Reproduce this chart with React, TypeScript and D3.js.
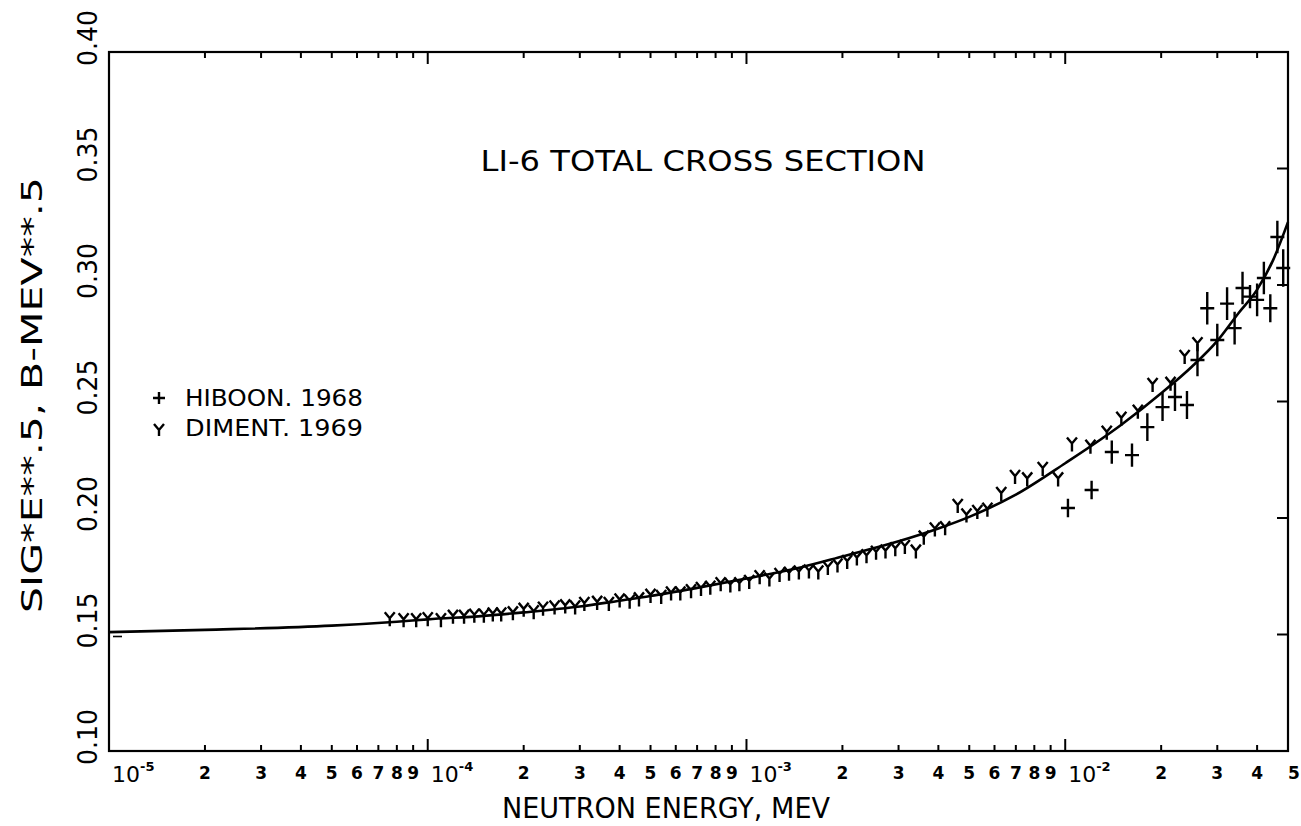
import React from 'react';
import * as d3 from 'd3';

// evaluated curve, sigma*sqrt(E) vs E (MeV)
const curveE = [1e-5, 2e-5, 5e-5, 8e-5, 1e-4, 1.5e-4, 2e-4, 3e-4, 4e-4, 5e-4, 7e-4, 1e-3, 1.5e-3, 2e-3, 3e-3, 4e-3, 5e-3, 7e-3, 1e-2, 1.5e-2, 2e-2, 2.5e-2, 3e-2, 3.5e-2, 4e-2, 4.5e-2, 5e-2];
const curveSig = [0.151, 0.152, 0.1538, 0.1555, 0.1565, 0.158, 0.1595, 0.162, 0.1645, 0.1665, 0.170, 0.174, 0.179, 0.1835, 0.190, 0.1955, 0.2005, 0.210, 0.2235, 0.240, 0.2535, 0.265, 0.276, 0.288, 0.298, 0.311, 0.327];

// DIMENT 1969
const dimentE = [7.6e-5, 8.4e-5, 9.2e-5, 1.0e-4, 1.1e-4, 1.2e-4, 1.3e-4, 1.4e-4, 1.5e-4, 1.6e-4, 1.7e-4, 1.85e-4, 2.0e-4, 2.15e-4, 2.3e-4, 2.5e-4, 2.7e-4, 2.9e-4, 3.1e-4, 3.4e-4, 3.7e-4, 4.0e-4, 4.3e-4, 4.6e-4, 5.0e-4, 5.4e-4, 5.8e-4, 6.2e-4, 6.7e-4, 7.2e-4, 7.7e-4, 8.3e-4, 8.9e-4, 9.5e-4, 1.02e-3, 1.1e-3, 1.18e-3, 1.27e-3, 1.36e-3, 1.46e-3, 1.57e-3, 1.68e-3, 1.8e-3, 1.93e-3, 2.07e-3, 2.22e-3, 2.38e-3, 2.55e-3, 2.73e-3, 2.93e-3, 3.14e-3, 3.4e-3, 3.6e-3, 3.9e-3, 4.2e-3, 4.6e-3, 4.9e-3, 5.3e-3, 5.7e-3, 6.3e-3, 6.96e-3, 7.6e-3, 8.5e-3, 9.5e-3, 1.05e-2, 1.2e-2, 1.35e-2, 1.5e-2, 1.69e-2, 1.88e-2, 2.14e-2, 2.37e-2, 2.6e-2];
const dimentSig = [0.157, 0.1565, 0.1565, 0.157, 0.1565, 0.158, 0.158, 0.1585, 0.1585, 0.159, 0.159, 0.1595, 0.161, 0.160, 0.1615, 0.162, 0.1625, 0.162, 0.1635, 0.164, 0.1635, 0.165, 0.1645, 0.1655, 0.167, 0.1665, 0.168, 0.168, 0.169, 0.170, 0.1705, 0.172, 0.1715, 0.172, 0.173, 0.175, 0.174, 0.176, 0.1765, 0.177, 0.1775, 0.177, 0.179, 0.180, 0.1815, 0.183, 0.184, 0.1855, 0.186, 0.187, 0.188, 0.186, 0.192, 0.1955, 0.196, 0.2056, 0.2015, 0.203, 0.204, 0.2107, 0.218, 0.217, 0.2215, 0.217, 0.232, 0.231, 0.237, 0.243, 0.246, 0.2575, 0.258, 0.2695, 0.275];

// HIBOON 1968
const hiboonE = [1.02e-2, 1.21e-2, 1.4e-2, 1.62e-2, 1.81e-2, 2.02e-2, 2.21e-2, 2.41e-2, 2.6e-2, 2.79e-2, 3.0e-2, 3.22e-2, 3.4e-2, 3.6e-2, 3.8e-2, 4.0e-2, 4.2e-2, 4.4e-2, 4.63e-2, 4.83e-2];
const hiboonSig = [0.2043, 0.212, 0.2283, 0.227, 0.239, 0.2476, 0.2519, 0.2485, 0.2678, 0.290, 0.2764, 0.292, 0.2815, 0.2987, 0.295, 0.2936, 0.303, 0.290, 0.3206, 0.3073];
const hiboonErr = [0.004, 0.004, 0.005, 0.005, 0.006, 0.006, 0.006, 0.006, 0.007, 0.007, 0.007, 0.007, 0.007, 0.007, 0.005, 0.007, 0.007, 0.006, 0.007, 0.008];

const yTicks = [0.10, 0.15, 0.20, 0.25, 0.30, 0.35, 0.40];
const yTickLabels = ['0.10', '0.15', '0.20', '0.25', '0.30', '0.35', '0.40'];
const legendLabels = ['HIBOON. 1968', 'DIMENT. 1969'];

const W = 1301;
const H = 826;
const left = 109, right = 1288, top = 52, bottom = 751;
const font = '"DejaVu Sans", sans-serif';

const App: React.FC = () => {
  const x = d3.scaleLog().domain([1e-5, 5e-2]).range([left, right]);
  const y = d3.scaleLinear().domain([0.10, 0.40]).range([bottom, top]);

  const line = d3.line<number>()
    .x((_, i) => x(curveE[i]))
    .y(d => y(d))
    .curve(d3.curveMonotoneX);

  const xTicks = x.ticks();

  const yMarker = 'M -5 -6 L 0 0 L 5 -6 M 0 0 L 0 8';
  const plusMarker = (px: number, py: number, e: number) => {
    const up = y(e) - y(0);
    return `M ${px - 7} ${py} L ${px + 7} ${py} M ${px} ${py + up} L ${px} ${py - up}`;
  };

  return (
    <svg width={W} height={H} style={{ position: 'absolute', left: 0, top: 0, background: '#fff' }}>
      {/* frame */}
      <rect x={left} y={top} width={right - left} height={bottom - top} fill="none" stroke="#000" strokeWidth={2.2} />

      {/* x ticks bottom and top */}
      {xTicks.map((t, i) => {
        const m = Math.round(t / Math.pow(10, Math.floor(Math.log10(t) + 1e-9)));
        const len = m === 1 ? 12 : 6;
        const px = x(t);
        return (
          <g key={'xt' + i}>
            <line x1={px} x2={px} y1={bottom} y2={bottom - len} stroke="#000" strokeWidth={2} />
            <line x1={px} x2={px} y1={top} y2={top + len} stroke="#000" strokeWidth={2} />
          </g>
        );
      })}

      {/* x tick labels */}
      {xTicks.map((t, i) => {
        const exp = Math.floor(Math.log10(t) + 1e-9);
        const m = Math.round(t / Math.pow(10, exp));
        const px = x(t);
        if (m === 1) {
          return (
            <text key={'xl' + i} x={px + 3} y={782} fontFamily={font} fontSize={22} fill="#000">
              10<tspan fontSize={13} fontWeight="bold" dy={-11}>{`-${-exp}`}</tspan>
            </text>
          );
        }
        const last = i === xTicks.length - 1;
        return (
          <text key={'xl' + i} x={last ? px + 6 : px} y={779} textAnchor="middle" fontFamily={font}
            fontSize={17} fontWeight="bold" fill="#000">{m}</text>
        );
      })}

      {/* y ticks (right side, pointing in) */}
      {yTicks.map((t, i) => (
        <g key={'yt' + i}>
          <line x1={right} x2={right - 11} y1={y(t)} y2={y(t)} stroke="#000" strokeWidth={2} />
          <text transform={`translate(97, ${y(t) - 14}) rotate(-90)`} textAnchor="middle" fontFamily={font}
            fontSize={26} textLength={56} lengthAdjust="spacingAndGlyphs" fill="#000">{yTickLabels[i]}</text>
        </g>
      ))}
      <line x1={113} x2={122} y1={y(0.15) + 2} y2={y(0.15) + 2} stroke="#000" strokeWidth={1.6} />

      {/* axis titles */}
      <text x={502} y={818} fontFamily={font} fontSize={29} textLength={328} lengthAdjust="spacingAndGlyphs" fill="#000">
        NEUTRON ENERGY, MEV
      </text>
      <text transform="translate(42, 395) rotate(-90)" textAnchor="middle" fontFamily={font} fontSize={28}
        textLength={436} lengthAdjust="spacingAndGlyphs" fill="#000">SIG*E**.5, B-MEV**.5</text>

      {/* chart title */}
      <text x={703} y={171} textAnchor="middle" fontFamily={font} fontSize={29} textLength={445}
        lengthAdjust="spacingAndGlyphs" fill="#000">LI-6 TOTAL CROSS SECTION</text>

      {/* legend */}
      <path d="M 153 398 L 165 398 M 159 392 L 159 404" stroke="#000" strokeWidth={2.4} fill="none" />
      <path d="M 154 424 L 159 430 L 164 424 M 159 430 L 159 436" stroke="#000" strokeWidth={2.4} fill="none" />
      {legendLabels.map((l, i) => (
        <text key={'lg' + i} x={185} y={406 + i * 30} fontFamily={font} fontSize={23} textLength={178}
          lengthAdjust="spacingAndGlyphs" fill="#000">{l}</text>
      ))}

      {/* curve */}
      <path d={line(curveSig) || ''} fill="none" stroke="#000" strokeWidth={2.6} />

      {/* Diment markers */}
      {dimentE.map((e, i) => (
        <path key={'dm' + i} transform={`translate(${x(e)}, ${y(dimentSig[i])})`} d={yMarker}
          stroke="#000" strokeWidth={2.4} fill="none" />
      ))}

      {/* Hiboon markers */}
      {hiboonE.map((e, i) => (
        <path key={'hb' + i} d={plusMarker(x(e), y(hiboonSig[i]), hiboonErr[i])}
          stroke="#000" strokeWidth={2.4} fill="none" />
      ))}
    </svg>
  );
};

export default App;
